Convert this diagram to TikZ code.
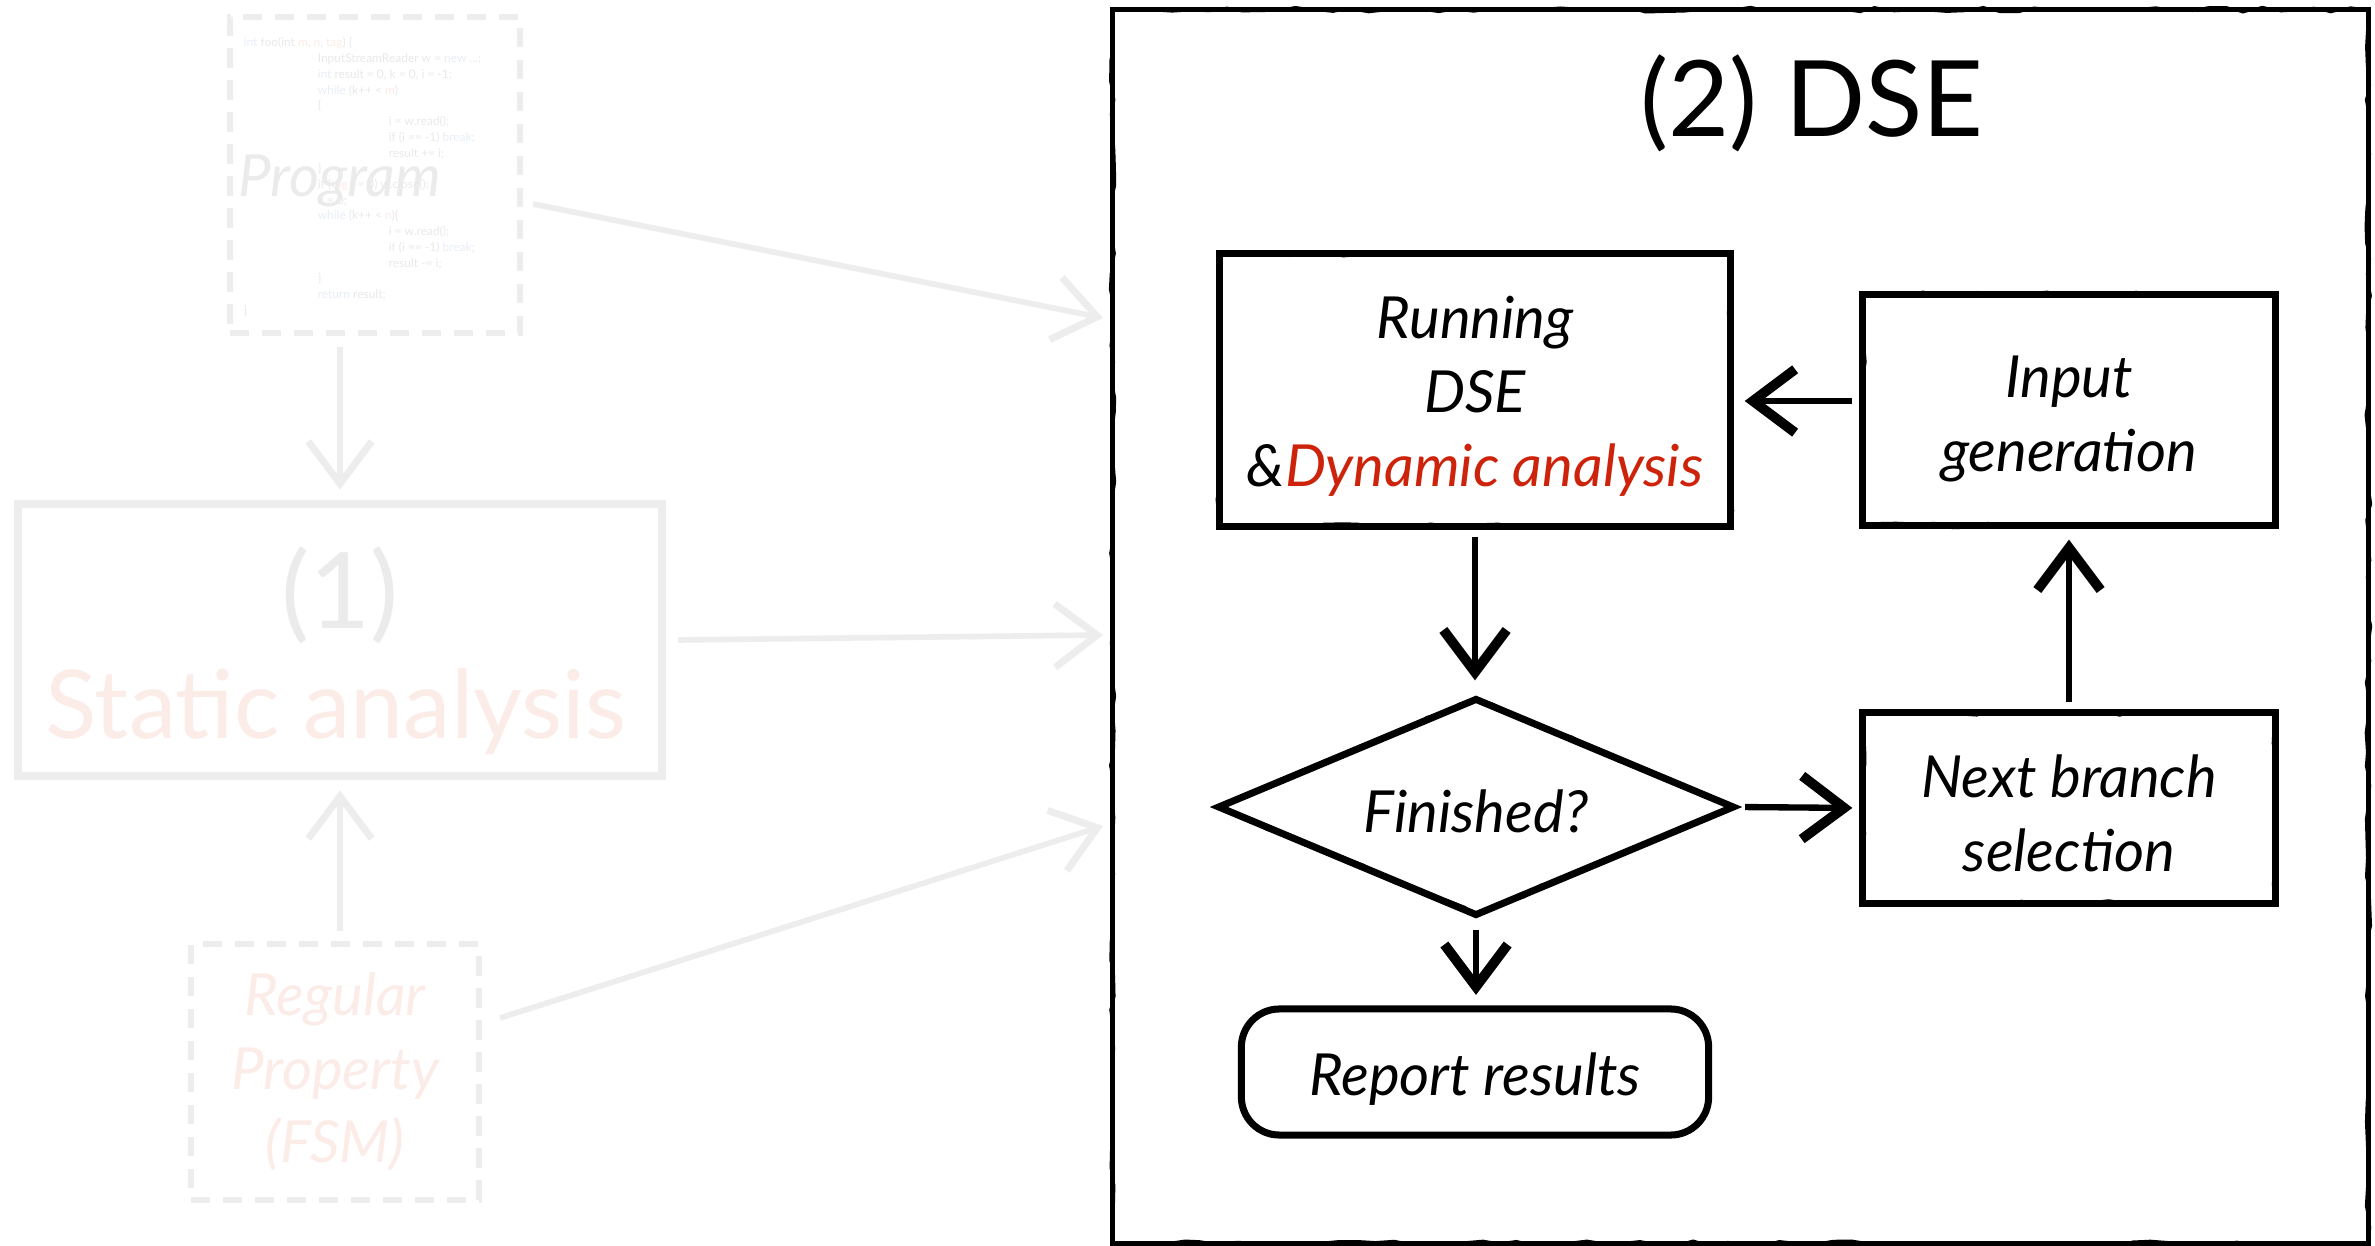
\documentclass[tikz,border=0pt]{standalone}
\usepackage{fontspec}
\setmainfont{Lato}
\usetikzlibrary{arrows.meta,shapes.geometric,decorations.pathmorphing}
\definecolor{dsered}{RGB}{205,35,10}
\definecolor{fadeline}{RGB}{237,237,237}
\definecolor{fadetext}{RGB}{235,235,235}
\definecolor{fadered}{RGB}{252,236,232}
\definecolor{fadeblue}{RGB}{232,238,248}
\definecolor{codegray}{RGB}{233,233,233}
\begin{document}
\begin{tikzpicture}[x=0.01cm,y=-0.01cm,
  sketchy/.style={postaction={draw, line width=0.6pt, decorate,
      decoration={random steps, segment length=5pt, amplitude=0.8pt}}},
  boxbase/.style={draw, line width=2pt, inner sep=0pt, align=center,
      font=\itshape\fontsize{16.5}{21}\selectfont},
  box/.style={boxbase, sketchy},
  rbox/.style={boxbase, rounded corners=0.38cm},
  lbl/.style={inner sep=0pt, align=center, font=\itshape\fontsize{16.5}{21}\selectfont},
  diam/.style={draw, diamond, line width=2pt, inner sep=0pt, aspect=2.37,
      minimum width=5.17cm, minimum height=2.18cm,
      font=\itshape\fontsize{16.5}{21}\selectfont, sketchy},
  frame/.style={draw, line width=1.4pt, inner sep=0pt, sketchy},
  dashbox/.style={draw=fadeline, line width=1.7pt, dash pattern=on 5.5pt off 3.6pt,
      inner sep=0pt, align=center},
  fadebox/.style={draw=fadeline, line width=2.2pt, inner sep=0pt, align=center},
  arr/.style={-{Straight Barb[length=12pt,width=18pt,line width=2.8pt]},
      line width=1.8pt, black},
  fadearr/.style={-{Straight Barb[length=12pt,width=18pt,line width=2pt]},
      line width=1.6pt, fadeline},
]
\pgfmathsetseed{7}
\fill[white] (0,0) rectangle (2375,1246);
\useasboundingbox (0,0) rectangle (2375,1246);

% ---------- faded left part ----------
\node[dashbox, minimum width=2.90cm, minimum height=3.16cm] (prog) at (375,175) {};
\node[anchor=north west, inner sep=0pt, align=left, text=codegray,
      font=\fontsize{3.4}{4.47}\selectfont] (code) at (243,37) {%
\textcolor{fadeblue}{int} foo(int \textcolor{fadered}{m}, \textcolor{fadered}{n}, \textcolor{fadered}{tag}) \{\\
\hspace*{0.74cm}InputStreamReader w = \textcolor{fadeblue}{new} ...;\\
\hspace*{0.74cm}\textcolor{fadeblue}{int} result = 0, k = 0, i = -1;\\
\hspace*{0.74cm}\textcolor{fadeblue}{while} (k++ < \textcolor{fadered}{m})\\
\hspace*{0.74cm}\{\\
\hspace*{1.45cm}i = w.read();\\
\hspace*{1.45cm}if (i == -1) \textcolor{fadeblue}{break};\\
\hspace*{1.45cm}result += i;\\
\hspace*{0.74cm}\}\\
\hspace*{0.74cm}if (\textcolor{fadered}{tag} == 0) w.close();\\
\hspace*{0.74cm}k = 0;\\
\hspace*{0.74cm}\textcolor{fadeblue}{while} (k++ < \textcolor{fadered}{n})\{\\
\hspace*{1.45cm}i = w.read();\\
\hspace*{1.45cm}if (i == -1) \textcolor{fadeblue}{break};\\
\hspace*{1.45cm}result -= i;\\
\hspace*{0.74cm}\}\\
\hspace*{0.74cm}\textcolor{fadeblue}{return} result;\\
\}};
\node[anchor=base west, inner sep=0pt, text=fadetext,
      font=\itshape\fontsize{16.5}{21}\selectfont] (progl) at (238,197) {Program};

\node[fadebox, minimum width=6.44cm, minimum height=2.72cm] (stat) at (340,640) {};
\node[inner sep=0pt, text=fadetext, font=\fontsize{30}{36}\selectfont] (statn) at (340,595) {(1)};
\node[inner sep=0pt, text=fadered, font=\fontsize{27}{33}\selectfont] (statt) at (336,712) {Static analysis};

\node[dashbox, minimum width=2.88cm, minimum height=2.55cm, text=fadered,
      font=\itshape\fontsize{16.5}{21}\selectfont] (reg) at (335,1072)
      {Regular\\Property\\(FSM)};

\draw[fadearr, shorten <=3pt, shorten >=3pt] (prog.south -| stat.north) -- (stat.north);
\draw[fadearr, shorten <=3pt, shorten >=3pt] (reg.north -| stat.south) -- (stat.south);

\coordinate (t1) at (1103,318);
\coordinate (t2) at (1103,635);
\coordinate (t3) at (1103,826);
\draw[fadearr] ([xshift=0.1cm,yshift=-0.29cm]prog.east) -- (t1);
\draw[fadearr] ([xshift=0.12cm]stat.east) -- (t2);
\draw[fadearr] ([xshift=0.18cm,yshift=0.54cm]reg.east) -- (t3);

% ---------- DSE frame ----------
\node[frame, minimum width=12.55cm, minimum height=12.33cm] (dse) at (1740.5,626.5) {};
\node[inner sep=0pt, font=\fontsize{30}{36}\selectfont] (title) at (1812,103) {(2) DSE};

\node[box, minimum width=5.11cm, minimum height=2.72cm] (run) at (1475,390) {};
\node[lbl] (runt) at (1475,396) {Running\\DSE\\\&\textcolor{dsered}{Dynamic analysis}};
\node[box, minimum width=4.12cm, minimum height=2.31cm] (inp) at (2069,410) {};
\node[lbl] (inpt) at (2069,419) {Input\\generation};
\node[diam] (fin) at (1476,807) {};
\node[lbl] (fint) at (1476,811) {Finished?};
\node[box, minimum width=4.12cm, minimum height=1.90cm] (next) at (2069,808) {};
\node[lbl] (nextt) at (2069,813) {Next branch\\selection};
\node[rbox, minimum width=4.67cm, minimum height=1.26cm] (rep) at (1475,1072) {};
\node[lbl] (rept) at (1475,1079) {Report results};

\draw[arr, shorten <=2pt, shorten >=4pt] (run.south) -- (run.south |- fin.north);
\draw[arr, shorten <=2pt, shorten >=2pt] (fin.east) -- (next.west);
\draw[arr, shorten <=2pt, shorten >=3pt] (next.north) -- (inp.south);
\draw[arr, shorten <=2pt, shorten >=3pt] ([yshift=0.09cm]inp.west) -- ([yshift=0.09cm]inp.west -| run.east);
\draw[arr, shorten <=3pt, shorten >=3pt] (fin.south) -- (fin.south |- rep.north);
\end{tikzpicture}
\end{document}
